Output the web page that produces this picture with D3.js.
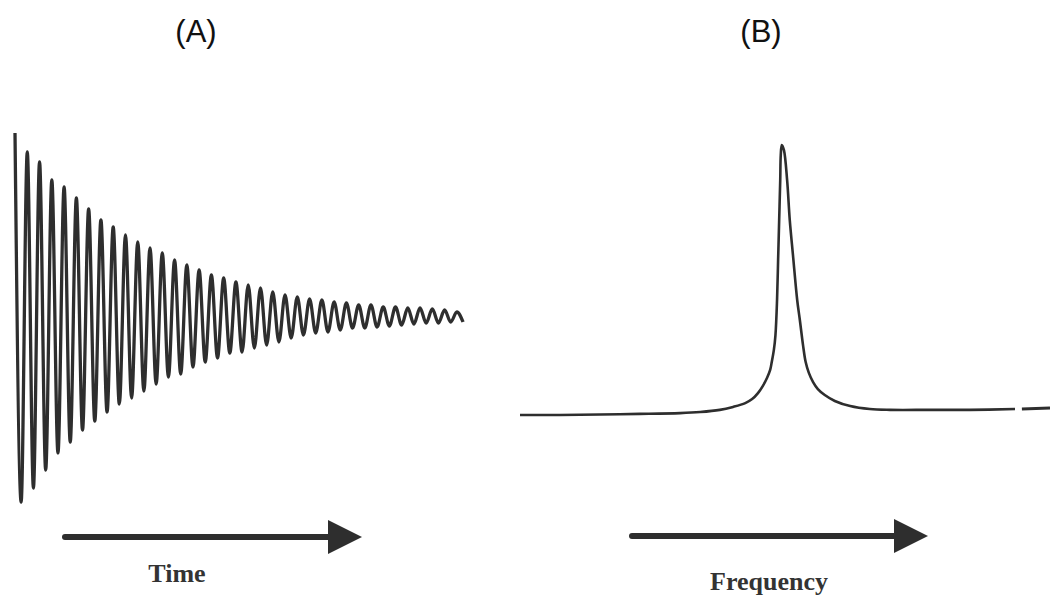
<!DOCTYPE html>
<html>
<head>
<meta charset="utf-8">
<script src="https://cdnjs.cloudflare.com/ajax/libs/d3/7.8.5/d3.min.js"></script>
<style>
  body { margin: 0; background: #fff; }
  svg { display: block; }
</style>
</head>
<body>
<svg id="chart" width="1050" height="597"></svg>
<script>
// (A) decaying signal: value at each successive half-cycle extremum (arbitrary units)
var fidExtrema = [184, -185, 165, -171, 155, -153, 137, -136, 130, -125,
  119, -113, 108, -104, 97, -95, 90, -87, 82, -81,
  75, -74, 69, -67, 64, -60, 57, -57, 52, -50,
  47, -45, 42, -41, 39, -36, 35, -35, 32, -31,
  29, -28, 25, -25, 22, -21, 20, -18, 18, -16,
  17, -15, 15, -13, 14, -11, 12, -11, 12, -10,
  10, -9, 10, -8, 9, -7, 9, -6, 8, -6, 7, -5, 5, -5];

// (B) spectrum: frequency (0-100, arbitrary) and normalised intensity
var specFreq = [0, 7.5, 15.1, 22.6, 30.2, 34.0, 37.7, 40.2, 42.5,
  43.8, 44.9, 45.8, 46.6, 47.2, 47.5, 47.9, 48.2, 48.5,
  48.7, 48.9, 49.1, 49.2, 49.4, 49.8, 50.4, 50.9, 51.5,
  52.3, 52.8, 53.4, 53.9, 54.5, 55.3, 56.2, 57.5, 59.4,
  62.3, 66.0, 69.8, 77.4, 84.9, 93.4];
var specIntensity = [0, 0, 0.002, 0.004, 0.007, 0.011, 0.019, 0.030, 0.044,
  0.059, 0.081, 0.107, 0.137, 0.167, 0.196, 0.241, 0.296, 0.426,
  0.574, 0.722, 0.870, 0.963, 1.000, 0.981, 0.870, 0.722, 0.593,
  0.426, 0.352, 0.259, 0.196, 0.156, 0.122, 0.096, 0.074, 0.052,
  0.033, 0.022, 0.019, 0.019, 0.019, 0.022];
var specTailFreq = [94.7, 100];
var specTailIntensity = [0.022, 0.026];

var panelLabels = ["(A)", "(B)"];
var axisLabels = ["Time", "Frequency"];

var svg = d3.select("#chart");
var ink = "#2e2e2e";

svg.append("rect")
  .attr("width", 1050)
  .attr("height", 597)
  .style("fill", "white");

// panel A
var fidX = d3.scaleLinear().domain([0, fidExtrema.length - 1]).range([15, 463]);
var fidY = d3.scaleLinear().domain([-185, 185]).range([502, 132]);

var fidLine = d3.line()
  .x(function(d, i) { return fidX(i); })
  .y(function(d) { return fidY(d); })
  .curve(d3.curveMonotoneX);

svg.append("path")
  .datum(fidExtrema)
  .attr("d", fidLine)
  .style("fill", "none")
  .style("stroke", ink)
  .style("stroke-width", 3.3)
  .style("stroke-linejoin", "round");

// panel B
var specX = d3.scaleLinear().domain([0, 100]).range([520, 1050]);
var specY = d3.scaleLinear().domain([0, 1]).range([415, 145]);

var specLine = d3.line()
  .x(function(d) { return specX(d[0]); })
  .y(function(d) { return specY(d[1]); })
  .curve(d3.curveCatmullRom.alpha(0.5));

svg.append("path")
  .datum(d3.zip(specFreq, specIntensity))
  .attr("d", specLine)
  .style("fill", "none")
  .style("stroke", ink)
  .style("stroke-width", 2.6)
  .style("stroke-linejoin", "round");

svg.append("path")
  .datum(d3.zip(specTailFreq, specTailIntensity))
  .attr("d", specLine)
  .style("fill", "none")
  .style("stroke", ink)
  .style("stroke-width", 3);

// arrows under each panel
var arrows = [
  {x0: 65, x1: 362, y: 537},
  {x0: 632, x1: 928, y: 536}
];

svg.selectAll("line.shaft")
  .data(arrows)
  .enter()
  .append("line")
  .attr("class", "shaft")
  .attr("x1", function(d) { return d.x0; })
  .attr("x2", function(d) { return d.x1 - 30; })
  .attr("y1", function(d) { return d.y; })
  .attr("y2", function(d) { return d.y; })
  .style("stroke", ink)
  .style("stroke-width", 6)
  .style("stroke-linecap", "round");

svg.selectAll("path.head")
  .data(arrows)
  .enter()
  .append("path")
  .attr("class", "head")
  .attr("d", function(d) {
    return "M" + (d.x1 - 34) + "," + (d.y - 17) +
      "L" + d.x1 + "," + d.y +
      "L" + (d.x1 - 34) + "," + (d.y + 17) + "Z";
  })
  .style("fill", ink);

// labels
svg.selectAll("text.panel")
  .data(panelLabels)
  .enter()
  .append("text")
  .attr("class", "panel")
  .attr("x", function(d, i) { return [196, 761][i]; })
  .attr("y", 42)
  .attr("text-anchor", "middle")
  .style("font-family", "Liberation Sans, Arial, sans-serif")
  .style("font-size", "31px")
  .style("fill", "#111")
  .text(function(d) { return d; });

svg.selectAll("text.axis")
  .data(axisLabels)
  .enter()
  .append("text")
  .attr("class", "axis")
  .attr("x", function(d, i) { return [177, 769][i]; })
  .attr("y", function(d, i) { return [582, 590][i]; })
  .attr("text-anchor", "middle")
  .style("font-family", "Liberation Serif, Times New Roman, serif")
  .style("font-weight", "bold")
  .style("font-size", "26px")
  .style("fill", "#333")
  .text(function(d) { return d; });
</script>
</body>
</html>
